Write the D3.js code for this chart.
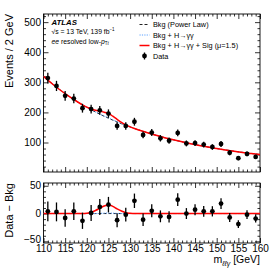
<!DOCTYPE html>
<html><head><meta charset="utf-8">
<script src="https://cdn.jsdelivr.net/npm/d3@7"></script>
<style>
body{margin:0;background:#fff;}
svg{display:block;font-family:"Liberation Sans",Arial,Helvetica,sans-serif;}
</style></head><body>
<svg id="c" width="274" height="274"></svg>
<script>
// ---- data ----
const binCenters = [111,113,115,117,119,121,123,125,127,129,131,133,135,137,139,141,143,145,147,149,151,153,155,157,159];
const dataCounts = [314,288,255,246,214,211,207,196,155,155,169,125,133,114,106,132,97,98,93,85,95,66,48,62,52];
const residuals  = [4,3,-8,4,-13,1,12,16,-12,-2,23,-11,5,-5,-6,25,0,7,4,4,18,-7,-19,-2,-9];

const lineMass = [110,112,114,116,118,119,120,121,122,123,124,125,126,127,128,129,130,131,132,134,136,138,140,142,144,146,148,150,152,154,156,158,160];
const bkgLine  = [320,295.2,272.8,252.4,233.8,225.2,216.9,209.0,201.4,194.2,187.3,180.7,174.4,168.4,162.5,157.0,151.6,146.6,141.7,132.5,124.0,116.1,108.9,102.2,96.0,90.3,84.9,80.0,75.4,71.1,67.1,63.4,59.9];
const bkgHLine = [320,295.2,272.8,252.4,233.8,225.2,216.9,209.0,201.4,194.5,188.1,181.7,175.2,168.7,162.5,157.0,151.6,146.6,141.7,132.5,124.0,116.1,108.9,102.2,96.0,90.3,84.9,80.0,75.4,71.1,67.1,63.4,59.9];
const sigLine  = [320,295.2,272.8,252.4,233.8,225.2,217.4,211.5,206.9,203.7,200.8,196.7,187.4,176.9,167.0,158.5,152.1,146.6,141.7,132.5,124.0,116.1,108.9,102.2,96.0,90.3,84.9,80.0,75.4,71.1,67.1,63.4,59.9];

const resBkgLine = [0,0,0,0,0,0,0,0,0,0,0,0,0,0,0,0,0,0,0,0,0,0,0,0,0,0,0,0,0,0,0,0,0];
const resHLine   = [0,0,0,0,0,0,0,0,0,0.3,0.8,1.0,0.8,0.3,0,0,0,0,0,0,0,0,0,0,0,0,0,0,0,0,0,0,0];
const resSigLine = [0,0,0,0,0,0,0.5,2.5,5.5,9.5,13.5,16,13,8.5,4.5,1.5,0.5,0,0,0,0,0,0,0,0,0,0,0,0,0,0,0,0];

const xMajor = [110,115,120,125,130,135,140,145,150,155,160];
const yMajor = [100,200,300,400,500];
const y2Major = [-50,0,50];

const legendLabels = ["Bkg (Power Law)","Bkg + H\u2192\u03b3\u03b3","Bkg + H\u2192\u03b3\u03b3 + Sig (\u03bc=1.5)","Data"];

// ---- layout ----
const svg = d3.select("#c");
const L = 43.5, R = 260, T1 = 14, B1 = 172, T2 = 183, B2 = 243;
const x  = d3.scaleLinear().domain([110,160]).range([L,R]);
const y  = d3.scaleLinear().domain([2,527]).range([B1,T1]);
const y2 = d3.scaleLinear().domain([-53,55]).range([B2,T2]);

const xMinor = d3.range(110,161,1).filter(v => v % 5 !== 0);
const yMinor = d3.range(20,527,20).filter(v => v % 100 !== 0);
const y2Minor = d3.range(-50,55,10).filter(v => v % 50 !== 0);

const RED = "#ff0000", BLUE = "#5aa0ff";

svg.append("defs").html(
  `<clipPath id="clip1"><rect x="${L}" y="${T1}" width="${R-L}" height="${B1-T1}"/></clipPath>
   <clipPath id="clip2"><rect x="${L}" y="${T2}" width="${R-L}" height="${B2-T2}"/></clipPath>`);

function styleAxis(g){
  g.select(".domain").remove();
  g.selectAll("line").attr("stroke","#000").attr("stroke-width",0.8);
  g.selectAll("text").attr("font-size","10px").attr("fill","#000");
}

function axes(ys, top, bottom, yMaj, yMin, showX, fmtY){
  // bottom
  svg.append("g").attr("class","xlab").attr("transform",`translate(0,${bottom})`)
    .call(d3.axisBottom(x).tickValues(xMajor).tickSize(-5).tickPadding(2).tickFormat(showX ? d3.format("d") : () => ""))
    .call(styleAxis);
  svg.append("g").attr("transform",`translate(0,${bottom})`)
    .call(d3.axisBottom(x).tickValues(xMinor).tickSize(-2.5).tickFormat(() => ""))
    .call(styleAxis);
  // top
  svg.append("g").attr("transform",`translate(0,${top})`)
    .call(d3.axisTop(x).tickValues(xMajor).tickSize(-5).tickFormat(() => ""))
    .call(styleAxis);
  svg.append("g").attr("transform",`translate(0,${top})`)
    .call(d3.axisTop(x).tickValues(xMinor).tickSize(-2.5).tickFormat(() => ""))
    .call(styleAxis);
  // left
  const lg = svg.append("g").attr("transform",`translate(${L},0)`)
    .call(d3.axisLeft(ys).tickValues(yMaj).tickSize(-5).tickPadding(2.5).tickFormat(fmtY))
    .call(styleAxis);
  svg.append("g").attr("transform",`translate(${L},0)`)
    .call(d3.axisLeft(ys).tickValues(yMin).tickSize(-2.5).tickFormat(() => ""))
    .call(styleAxis);
  // right
  svg.append("g").attr("transform",`translate(${R},0)`)
    .call(d3.axisRight(ys).tickValues(yMaj).tickSize(-5).tickFormat(() => ""))
    .call(styleAxis);
  svg.append("g").attr("transform",`translate(${R},0)`)
    .call(d3.axisRight(ys).tickValues(yMin).tickSize(-2.5).tickFormat(() => ""))
    .call(styleAxis);
  svg.append("rect").attr("x",L).attr("y",top).attr("width",R-L).attr("height",bottom-top)
    .attr("fill","none").attr("stroke","#000").attr("stroke-width",0.9);
  return lg;
}

const minusFmt = v => (v < 0 ? "\u2212" + Math.abs(v) : String(v));
axes(y, T1, B1, yMajor, yMinor, false, d3.format("d"));
const lower = axes(y2, T2, B2, y2Major, y2Minor, true, minusFmt);
// nudge the bottom "−50" label slightly up so it does not sit on the "110" label
lower.selectAll(".tick").filter(d => d === -50).select("text").attr("dy","0.1em");

// ---- lines ----
function drawLine(clip, ys, vals, color, width, dash){
  const line = d3.line().x((d,i) => x(lineMass[i])).y(d => ys(d)).curve(d3.curveMonotoneX);
  svg.append("path").attr("clip-path",`url(#${clip})`).datum(vals)
    .attr("d", line).attr("fill","none").attr("stroke",color)
    .attr("stroke-width",width).attr("stroke-dasharray",dash);
}
drawLine("clip1", y, bkgLine, "#222", 1, "3,2");
drawLine("clip1", y, bkgHLine, BLUE, 1, "1.2,1.2");
drawLine("clip1", y, sigLine, RED, 1.5, null);

drawLine("clip2", y2, resBkgLine, "#222", 1, "3,2");
drawLine("clip2", y2, resHLine, BLUE, 1, "1.2,1.2");
drawLine("clip2", y2, resSigLine, RED, 1.5, null);

// ---- data points ----
function drawPoints(ys, vals){
  const g = svg.append("g");
  binCenters.forEach((m,i) => {
    const e = Math.sqrt(dataCounts[i]);
    g.append("line").attr("x1",x(m)).attr("x2",x(m))
      .attr("y1",ys(vals[i]-e)).attr("y2",ys(vals[i]+e))
      .attr("stroke","#000").attr("stroke-width",1.3);
    g.append("circle").attr("cx",x(m)).attr("cy",ys(vals[i])).attr("r",2.4).attr("fill","#000");
  });
}
drawPoints(y, dataCounts);
drawPoints(y2, residuals);

// ---- axis titles ----
svg.append("text").attr("transform",`translate(12.5,${T1}) rotate(-90)`)
  .attr("text-anchor","end").attr("font-size","11px").text("Events / 2 GeV");
svg.append("text").attr("transform",`translate(12.5,${T2}) rotate(-90)`)
  .attr("text-anchor","end").attr("font-size","11px").text("Data \u2212 Bkg");
const xt = svg.append("text").attr("x",R).attr("y",263).attr("text-anchor","end").attr("font-size","10.5px");
xt.append("tspan").text("m");
xt.append("tspan").attr("font-size","7px").attr("dy","2.5").attr("font-style","italic").text("\u2113\u2113\u03b3");
xt.append("tspan").attr("dy","-2.5").text(" [GeV]");

// ---- ATLAS label ----
svg.append("text").attr("x",51.5).attr("y",25).attr("font-size","7.8px")
  .attr("font-weight","bold").attr("font-style","italic").text("ATLAS");
const s1 = svg.append("text").attr("x",51.5).attr("y",34).attr("font-size","6.8px");
s1.append("tspan").text("\u221as = 13 TeV, 139 fb");
s1.append("tspan").attr("font-size","4.5px").attr("dy","-2.8").text("\u22121");
const s2 = svg.append("text").attr("x",51.5).attr("y",43.5).attr("font-size","6.8px");
s2.append("tspan").attr("font-style","italic").text("ee");
s2.append("tspan").text(" resolved low-");
s2.append("tspan").attr("font-style","italic").text("p");
s2.append("tspan").attr("font-size","4.5px").attr("dy","1.8").text("T");
s2.append("tspan").attr("font-size","4.5px").attr("font-style","italic").text("t");

// ---- legend ----
const lx0 = 139.5, lx1 = 149.5, tx = 153;
const ly = [24.5, 35, 45.5, 56];
const lg = svg.append("g").attr("font-size","7.3px");
lg.append("line").attr("x1",lx0).attr("x2",lx1).attr("y1",ly[0]).attr("y2",ly[0])
  .attr("stroke","#222").attr("stroke-width",1).attr("stroke-dasharray","3,2");
lg.append("line").attr("x1",lx0).attr("x2",lx1).attr("y1",ly[1]).attr("y2",ly[1])
  .attr("stroke",BLUE).attr("stroke-width",1).attr("stroke-dasharray","1.2,1.2");
lg.append("line").attr("x1",lx0).attr("x2",lx1).attr("y1",ly[2]).attr("y2",ly[2])
  .attr("stroke",RED).attr("stroke-width",1.5);
lg.append("line").attr("x1",(lx0+lx1)/2).attr("x2",(lx0+lx1)/2).attr("y1",ly[3]-3.5).attr("y2",ly[3]+3.5)
  .attr("stroke","#000").attr("stroke-width",1.3);
lg.append("circle").attr("cx",(lx0+lx1)/2).attr("cy",ly[3]).attr("r",2.4).attr("fill","#000");
legendLabels.forEach((t,i) => {
  lg.append("text").attr("x",tx).attr("y",ly[i]).attr("dy","0.35em").text(t);
});
</script>
</body></html>
